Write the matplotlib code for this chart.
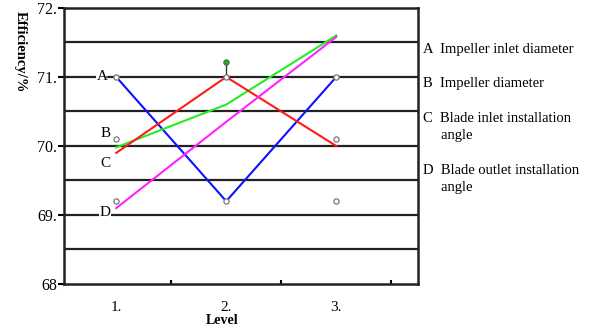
import matplotlib.pyplot as plt

# levels and efficiency values
levels = [1, 2, 3]
eff_A = [71.0, 69.2, 71.0]
eff_B = [69.98, 70.6, 71.6]
eff_C = [69.9, 71.0, 70.0]
eff_D = [69.1, 70.35, 71.58]

# small open circles
circle_x = [1, 1, 1, 2, 2, 3, 3, 3]
circle_y = [71.0, 70.1, 69.2, 71.0, 69.2, 71.0, 70.1, 69.2]
green_dot = (2, 71.22)

grid_levels = [68.5, 69, 69.5, 70, 70.5, 71, 71.5]
ytick_labels = ['68', '69.', '70.', '71.', '72.']
factor_names = ['A  Impeller inlet diameter',
                'B  Impeller diameter',
                'C  Blade inlet installation\n     angle',
                'D  Blade outlet installation\n     angle']

plt.rcParams['font.family'] = ['Liberation Serif', 'DejaVu Serif']

fig = plt.figure(figsize=(6, 3.31), dpi=100)
ax = fig.add_axes([0.107, 0.142, 0.59, 0.834])

for g in grid_levels:
    ax.axhline(g, color='#222222', lw=1.6, zorder=1)

ax.plot(levels, eff_A, color='#1010ff', lw=1.5, zorder=3)
ax.plot(levels, eff_B, color='#22ee22', lw=1.5, zorder=3)
ax.plot(levels, eff_C, color='#ff1a1a', lw=1.5, zorder=3)
ax.plot(levels, eff_D, color='#ff22ff', lw=1.5, zorder=3)

ax.plot([2, 2], [71.0, green_dot[1]], color='#333333', lw=1, zorder=3)
ax.scatter(circle_x, circle_y, s=14, facecolors='white', edgecolors='#777777',
           linewidths=0.9, zorder=4)
ax.scatter([green_dot[0]], [green_dot[1]], s=16, color='#22aa22',
           edgecolors='#555555', linewidths=0.6, zorder=4)

# letters next to the level-1 points
ax.text(0.87, 71.0, 'A', fontsize=11, ha='center', va='center', zorder=2,
        bbox=dict(facecolor='white', edgecolor='none', pad=0.5))
ax.plot([0.92, 0.97], [71.0, 71.0], color='#222222', lw=1.2, zorder=2)
ax.text(0.905, 70.18, 'B', fontsize=11, ha='center', va='center')
ax.text(0.905, 69.75, 'C', fontsize=11, ha='center', va='center')
ax.text(0.90, 69.04, 'D', fontsize=11, ha='center', va='center', zorder=2,
        bbox=dict(facecolor='white', edgecolor='none', pad=0.5))

ax.set_xlim(0.527, 3.745)
ax.set_ylim(68, 72)
ax.set_yticks([68, 69, 70, 71, 72])
ax.set_yticklabels(ytick_labels, fontsize=11.5)
ax.set_xticks([1.5, 2.5, 3.5])
ax.set_xticklabels([])
ax.tick_params(axis='x', direction='in', length=3, width=1.5)
ax.tick_params(axis='y', direction='out', length=4, width=1.5, pad=1)
for x, lab in zip(levels, ['1.', '2.', '3.']):
    ax.text(x, 67.66, lab, fontsize=11, ha='center', va='center')
for s in ax.spines.values():
    s.set_linewidth(1.8)
    s.set_color('#222222')

fig.text(222 / 600, 1 - 320 / 331, 'Level', fontsize=10, fontweight='bold',
         ha='center', va='center')
fig.text(20 / 600, 1 - 52 / 331, 'Efficiency/%', fontsize=10.5, fontweight='bold',
         rotation=-90, ha='center', va='center')

legend_y = [50, 84, 127, 179]
for y, name in zip(legend_y, factor_names):
    fig.text(423 / 600, 1 - y / 331, name, fontsize=10.5, ha='left', va='center',
             linespacing=1.45)

fig.savefig('out.png', dpi=100)
